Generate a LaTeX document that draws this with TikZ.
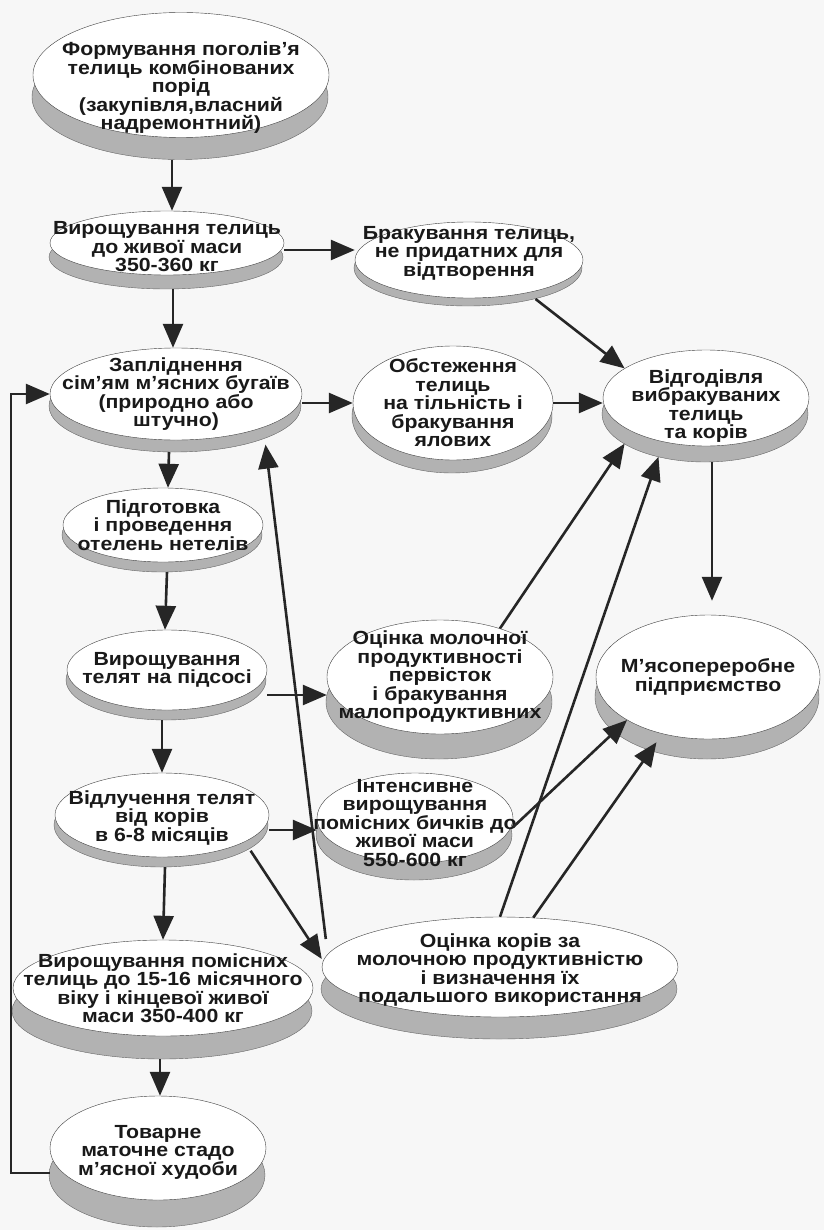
\documentclass[tikz,border=0pt]{standalone}
\usepackage{fontspec}
\setmainfont{Liberation Sans}
\newfontfamily\discfont[FakeStretch=1.12]{Liberation Sans}
\usetikzlibrary{arrows.meta,shapes.geometric,shadows}

\tikzset{
  disc/.style={ellipse, draw=black!75, fill=white, inner sep=0pt,
    general shadow={shadow xshift=-1pt, shadow yshift=-#1, fill=black!30, draw=black!60}},
  disc/.default=14pt,
  lbl/.style={align=center, inner sep=0pt, text=black!90,
    font=\discfont\bfseries\fontsize{19}{18.5}\selectfont},
  flow/.style={draw=black!85, line width=2.6pt, -{Triangle[length=24pt,width=20pt]}},
}

\begin{document}
\begin{tikzpicture}[x=1pt,y=-1pt]
  \path[use as bounding box, fill=black!3] (0,0) rectangle (824,1230);

  % left column
  \node[disc=22pt, minimum width=296pt, minimum height=125pt,
    label={[lbl, yshift=-13pt]center:{Формування поголів’я\\телиць комбінованих\\порід\\(закупівля,власний\\надремонтний)}}] (form) at (181,75) {};
  \node[disc=14pt, minimum width=234pt, minimum height=64pt,
    label={[lbl, yshift=-4pt]center:{Вирощування телиць\\до живої маси\\350-360 кг}}] (vyrt) at (167,243) {};
  \node[disc=12pt, minimum width=252pt, minimum height=92pt,
    label={[lbl]center:{Запліднення\\сім’ям м’ясних бугаїв\\(природно або\\штучно)}}] (zapl) at (176,394) {};
  \node[disc=10pt, minimum width=200pt, minimum height=74pt,
    label={[lbl]center:{Підготовка\\і проведення\\отелень нетелів}}] (pidg) at (163,525) {};
  \node[disc=10pt, minimum width=200pt, minimum height=80pt,
    label={[lbl]center:{Вирощування\\телят на підсосі}}] (vyrtel) at (167,670) {};
  \node[disc=10pt, minimum width=214pt, minimum height=84pt,
    label={[lbl, yshift=-3pt]center:{Відлучення телят\\від корів\\в 6-8 місяців}}] (vidl) at (162,815) {};
  \node[disc=23pt, minimum width=300pt, minimum height=96pt,
    label={[lbl]center:{Вирощування помісних\\телиць до 15-16 місячного\\віку і кінцевої живої\\маси 350-400 кг}}] (vyrpom) at (163,988) {};
  \node[disc=27pt, minimum width=216pt, minimum height=104pt,
    label={[lbl, yshift=-4pt]center:{Товарне\\маточне стадо\\м’ясної худоби}}] (tov) at (158,1148) {};

  % middle column
  \node[disc=8pt, minimum width=228pt, minimum height=76pt,
    label={[lbl, yshift=7pt]center:{Бракування телиць,\\не придатних для\\відтворення}}] (brak) at (469,260) {};
  \node[disc=13pt, minimum width=200pt, minimum height=114pt,
    label={[lbl]center:{Обстеження\\телиць\\на тільність і\\бракування\\ялових}}] (obst) at (453,403) {};
  \node[disc=25pt, minimum width=226pt, minimum height=114pt,
    label={[lbl]center:{Оцінка молочної\\продуктивності\\первісток\\і бракування\\малопродуктивних}}] (ocmol) at (440,677) {};
  \node[disc=17pt, minimum width=196pt, minimum height=90pt,
    label={[lbl, yshift=-5pt]center:{Інтенсивне\\вирощування\\помісних бичків до\\живої маси\\550-600 кг}}] (intens) at (415,818) {};
  \node[disc=22pt, minimum width=356pt, minimum height=100pt,
    label={[lbl, yshift=-3pt]center:{Оцінка корів за\\молочною продуктивністю\\і визначення їх\\подальшого використання}}] (ockor) at (500,967) {};

  % right column
  \node[disc=16pt, minimum width=206pt, minimum height=96pt,
    label={[lbl, yshift=-8pt]center:{Відгодівля\\вибракуваних\\телиць\\та корів}}] (vidg) at (706,398) {};
  \node[disc=20pt, minimum width=224pt, minimum height=124pt,
    label={[lbl]center:{М’ясопереробне\\підприємство}}] (mya) at (708,677) {};

  % arrows
  \draw[flow] ([xshift=-9pt,yshift=-22pt]form.south) -- ([xshift=5pt]vyrt.north);
  \draw[flow] ([yshift=-7pt]vyrt.east) coordinate (s1) -- (s1 -| brak.west);
  \draw[flow] ([xshift=6pt,yshift=-14pt]vyrt.south) -- ([xshift=-3pt]zapl.north);
  \draw[flow] ([yshift=-9pt]zapl.east) coordinate (s2) -- (s2 -| obst.west);
  \draw[flow] (obst.east) -- (obst.east -| vidg.west);
  \draw[flow] ([yshift=-8pt]brak.-25) -- (vidg.160);
  \draw[flow] ([xshift=-7pt,yshift=-12pt]zapl.south) -- ([xshift=5pt]pidg.north);
  \draw[flow] ([xshift=4pt,yshift=-10pt]pidg.south) -- ([xshift=-2pt]vyrtel.north);
  \draw[flow] ([yshift=-25pt]vyrtel.east) coordinate (s3) -- (s3 -| ocmol.west);
  \draw[flow] ([xshift=-5pt,yshift=-10pt]vyrtel.south) -- (vidl.north);
  \draw[flow] ([yshift=-15pt]vidl.east) coordinate (s4) -- (s4 -| intens.west);
  \draw[flow] ([xshift=3pt,yshift=-10pt]vidl.south) -- (vyrpom.north);
  \draw[flow] ([yshift=-12pt]vidl.-15) -- ([yshift=8pt]ockor.west);
  \draw[flow] ([xshift=-3pt,yshift=-23pt]vyrpom.south) -- ([xshift=2pt]tov.north);
  \draw[flow] ([yshift=-25pt]tov.west) -- ++(-39pt,0) |- (zapl.west);
  \draw[flow] ([xshift=4pt,yshift=28pt]ockor.west) -- ([yshift=-18pt]zapl.-20);
  \draw[flow] (ocmol.39) -- ([yshift=-16pt]vidg.200);
  \draw[flow] (ockor.north) -- ([yshift=-16pt]vidg.222);
  \draw[flow] (ockor.56) -- ([yshift=-10pt]mya.227);
  \draw[flow] ([yshift=-9pt]intens.east) -- (mya.208);
  \draw[flow, shorten >=14pt] ([xshift=6pt,yshift=-16pt]vidg.south) -- ([xshift=4pt]mya.north);
\end{tikzpicture}
\end{document}
